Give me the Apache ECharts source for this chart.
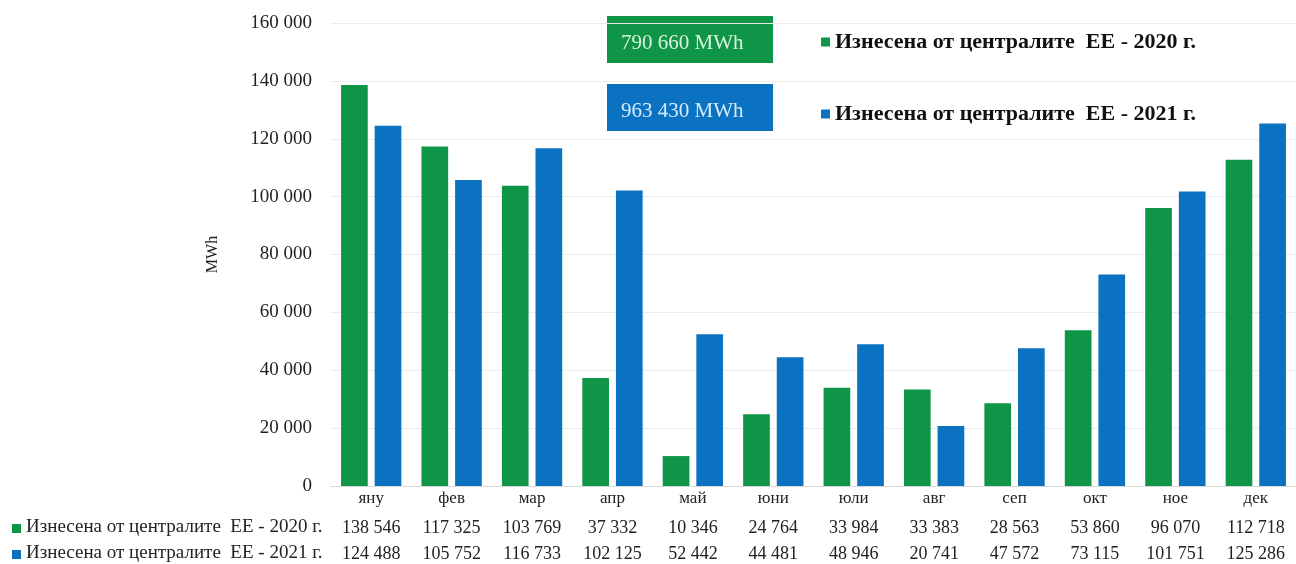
<!DOCTYPE html>
<html>
<head>
<meta charset="utf-8">
<script src="https://cdn.jsdelivr.net/npm/echarts@6/dist/echarts.min.js"></script>
<style>
html,body{margin:0;padding:0;background:#fff;}
#c{width:1296px;height:564px;}
</style>
</head>
<body>
<div id="c"></div>
<script>
const categories = ['яну','фев','мар','апр','май','юни','юли','авг','сеп','окт','ное','дек'];
const values2020 = [138546,117325,103769,37332,10346,24764,33984,33383,28563,53860,96070,112718];
const values2021 = [124488,105752,116733,102125,52442,44481,48946,20741,47572,73115,101751,125286];
const seriesNames = ['Изнесена от централите  ЕЕ - 2020 г.','Изнесена от централите  ЕЕ - 2021 г.'];
const totals = ['790 660 MWh','963 430 MWh'];
const yTicks = [0,20000,40000,60000,80000,100000,120000,140000,160000];

const GREEN = '#0f9547';
const BLUE = '#0a72c1';
const SERIF = '"Liberation Serif","DejaVu Serif",serif';

function fmt(v){ return String(v).replace(/\B(?=(\d{3})+(?!\d))/g,' '); }

const chart = echarts.init(document.getElementById('c'));
chart.setOption({
  animation:false,
  backgroundColor:'#fff',
  grid:{left:331, top:23, width:972, bottom:78, containLabel:false},
  legend:[
    {data:[seriesNames[0]], left:816, top:26, icon:'rect', itemWidth:9, itemHeight:9, itemGap:4,
     textStyle:{fontFamily:SERIF, fontWeight:'bold', fontSize:22, color:'#111'}},
    {data:[seriesNames[1]], left:816, top:98, icon:'rect', itemWidth:9, itemHeight:9, itemGap:4,
     textStyle:{fontFamily:SERIF, fontWeight:'bold', fontSize:22, color:'#111'}}
  ],
  xAxis:{
    type:'category', data:categories,
    axisTick:{show:false},
    axisLine:{lineStyle:{color:'#d9d9d9'}},
    axisLabel:{
      margin:1, interval:0,
      formatter:function(v,i){ return '{m|'+v+'}\n{a|'+fmt(values2020[i])+'}\n{b|'+fmt(values2021[i])+'}'; },
      rich:{
        m:{fontFamily:SERIF, fontSize:17, color:'#222', lineHeight:24},
        a:{fontFamily:SERIF, fontSize:18, color:'#222', lineHeight:34},
        b:{fontFamily:SERIF, fontSize:18, color:'#222', lineHeight:18}
      }
    }
  },
  yAxis:{
    type:'value', min:0, max:160000, interval:20000,
    name:'MWh', nameLocation:'middle', nameRotate:90, nameGap:110,
    nameTextStyle:{fontFamily:SERIF, fontSize:16, color:'#222'},
    axisLine:{show:false}, axisTick:{show:false},
    axisLabel:{margin:19, fontFamily:SERIF, fontSize:19, color:'#222', formatter:function(v){return fmt(v);}},
    splitLine:{lineStyle:{color:'#ececec'}}
  },
  series:[
    {name:seriesNames[0], type:'bar', data:values2020, itemStyle:{color:GREEN}, barGap:'26%', barCategoryGap:'25%'},
    {name:seriesNames[1], type:'bar', data:values2021, itemStyle:{color:BLUE}, barGap:'26%', barCategoryGap:'25%'}
  ],
  graphic:[
    {type:'rect', left:607, top:16, shape:{width:166, height:47}, style:{fill:GREEN}},
    {type:'text', left:621, top:33, style:{text:totals[0], fill:'#d9f2dd', font:'21px '+SERIF}},
    {type:'rect', left:607, top:84, shape:{width:166, height:47}, style:{fill:BLUE}},
    {type:'text', left:621, top:101, style:{text:totals[1], fill:'#d6eafb', font:'21px '+SERIF}},
    {type:'rect', left:12, top:524, shape:{width:9, height:9}, style:{fill:GREEN}},
    {type:'text', left:26, top:518, style:{text:seriesNames[0], fill:'#222', font:'19px '+SERIF}},
    {type:'rect', left:12, top:550, shape:{width:9, height:9}, style:{fill:BLUE}},
    {type:'text', left:26, top:544, style:{text:seriesNames[1], fill:'#222', font:'19px '+SERIF}}
  ]
});
</script>
</body>
</html>
